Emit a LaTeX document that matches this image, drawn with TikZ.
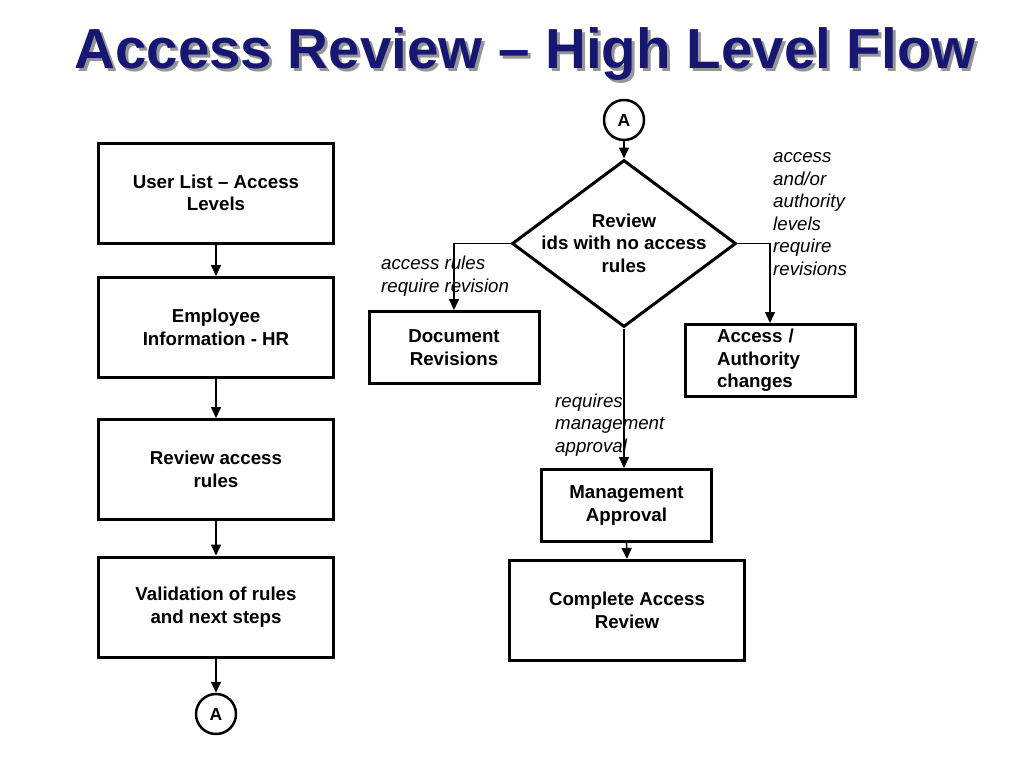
\documentclass[tikz,border=0pt]{standalone}
\usepackage{fontspec}
\setmainfont{Liberation Sans}
\usetikzlibrary{shapes.geometric,arrows.meta}
\definecolor{titleblue}{RGB}{22,22,115}
\definecolor{shadowgray}{RGB}{150,150,150}
\begin{document}
\begin{tikzpicture}[x=1pt,y=-1pt,
  box/.style={draw,line width=3pt,rectangle,inner sep=0pt,align=center,
    font=\fontsize{18.7}{22.5}\selectfont\bfseries},
  conn/.style={draw,line width=2.5pt,circle,minimum size=40pt,inner sep=0pt,
    font=\fontsize{17.5}{20}\selectfont\bfseries},
  dec/.style={draw,line width=3pt,diamond,minimum width=224pt,minimum height=167pt,inner sep=0pt},
  lab/.style={anchor=west,inner sep=0pt,align=left,
    font=\fontsize{18.7}{22.5}\selectfont\itshape},
  arr/.style={line width=1.6pt,-{Triangle[length=11pt,width=10pt]}}
]
\useasboundingbox (0,0) rectangle (1024,768);
\fill[white] (0,0) rectangle (1024,768);
% title
\node[anchor=base,inner sep=0pt,text=shadowgray,font=\fontsize{56.5}{60}\selectfont\bfseries] (tshadow) at (528,71) {Access Review – High Level Flow};
\node[anchor=base,inner sep=0pt,text=titleblue,font=\fontsize{56.5}{60}\selectfont\bfseries] (title) at (525,68) {Access Review – High Level Flow};
% left column
\node[box,minimum width=235pt,minimum height=100pt] (b1) at (216,193) {User List – Access\\Levels};
\node[box,minimum width=235pt,minimum height=100pt] (b2) at (216,327.5) {Employee\\Information - HR};
\node[box,minimum width=235pt,minimum height=100pt] (b3) at (216,469.5) {Review access\\rules};
\node[box,minimum width=235pt,minimum height=100pt] (b4) at (216,607) {Validation of rules\\and next steps};
\node[conn] (a1) at (216,714) {A};
\draw[arr] (b1.south) -- (b2.north);
\draw[arr] (b2.south) -- (b3.north);
\draw[arr] (b3.south) -- (b4.north);
\draw[arr] (b4.south) -- (a1.north);
% right part
\node[conn] (a2) at (624,120) {A};
\node[dec] (d) at (624,243.5) {};
\node[inner sep=0pt,align=center,font=\fontsize{18.7}{22.5}\selectfont\bfseries] (dt) at (624,243) {Review\\ids with no access\\rules};
\node[box,minimum width=170pt,minimum height=72pt] (dr) at (454,347.5) {Document\\Revisions};
\node[box,minimum width=170pt,minimum height=72pt,text width=106pt,align=left] (ac) at (770,360.5) {Access /\\Authority\\changes};
\node[box,minimum width=170pt,minimum height=72pt] (ma) at (626.5,505.5) {Management\\Approval};
\node[box,minimum width=235pt,minimum height=100pt] (car) at (627,610.5) {Complete Access\\Review};
\draw[arr] (a2.south) -- (d.north);
\draw[arr] (d.west) -| (dr.north);
\draw[arr] (d.east) -| (ac.north);
\draw[arr] (d.south) -- (d.south |- ma.north);
\draw[arr] (ma.south) -- (car.north);
% labels
\node[lab] (l1) at (381,276) {access rules\\require revision};
\node[lab] (l2) at (773,214) {access\\and/or\\authority\\levels\\require\\revisions};
\node[lab] (l3) at (555,425) {requires\\management\\approval};
\end{tikzpicture}
\end{document}
